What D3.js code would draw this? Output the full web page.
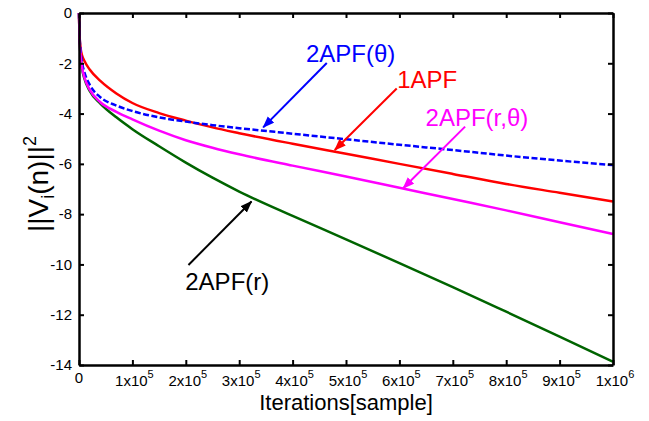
<!DOCTYPE html>
<html>
<head>
<meta charset="utf-8">
<script src="https://cdn.jsdelivr.net/npm/d3@7/dist/d3.min.js"></script>
<style>
body{margin:0;background:#fff;}
text{font-family:Arial,"Liberation Sans",sans-serif;}
</style>
</head>
<body>
<svg class="chart"></svg>
<script>
var W = 649, H = 421;
var plotL = 79, plotR = 613, plotT = 13, plotB = 365;

var iterations = [0,1e3,3e3,6e3,1e4,2e4,4e4,7e4,1e5,1.5e5,2e5,2.5e5,3e5,4e5,5e5,6e5,7e5,8e5,9e5,1e6];
// ||Vi(n)||^2 for each algorithm
var apf1      = [0,-0.9,-1.4,-1.7,-1.9,-2.25,-2.7,-3.2,-3.58,-3.98,-4.28,-4.55,-4.78,-5.2,-5.6,-6.0,-6.4,-6.8,-7.15,-7.5];
var apf2Theta = [0,-0.8,-1.5,-2.0,-2.35,-2.85,-3.35,-3.68,-3.9,-4.15,-4.32,-4.46,-4.58,-4.8,-5.02,-5.24,-5.45,-5.67,-5.87,-6.05];
var apf2RTheta= [0,-1.0,-1.7,-2.2,-2.55,-3.05,-3.55,-3.93,-4.23,-4.68,-5.06,-5.36,-5.62,-6.07,-6.5,-6.95,-7.4,-7.85,-8.32,-8.79];
var apf2R     = [0,-1.0,-1.7,-2.25,-2.6,-3.1,-3.6,-4.15,-4.62,-5.3,-5.95,-6.55,-7.1,-8.07,-9.0,-9.95,-10.9,-11.88,-12.87,-13.87];

var xTicks = [0,1e5,2e5,3e5,4e5,5e5,6e5,7e5,8e5,9e5,1e6];
var xTickBase = ["0","1x10","2x10","3x10","4x10","5x10","6x10","7x10","8x10","9x10","1x10"];
var xTickExp  = ["","5","5","5","5","5","5","5","5","5","6"];
var yTicks = [0,-2,-4,-6,-8,-10,-12,-14];

var x = d3.scaleLinear().domain([0,1e6]).range([plotL,plotR]);
var y = d3.scaleLinear().domain([-14,0]).range([plotB,plotT]);

var svg = d3.select(".chart").attr("width",W).attr("height",H);
svg.append("rect").attr("width","100%").attr("height","100%").attr("fill","#fff");

// arrow heads
var defs = svg.append("defs");
["#0000ff","#ff0000","#ff00ff","#000000"].forEach(function(c,i){
  defs.append("marker")
    .attr("id","head"+i)
    .attr("markerUnits","userSpaceOnUse")
    .attr("markerWidth",12).attr("markerHeight",10)
    .attr("refX",11).attr("refY",4.5)
    .attr("orient","auto")
    .append("path").attr("d","M0,0 L12,4.5 L0,9 z").attr("fill",c);
});

// curves
var series = [
  {v:apf2R, color:"#006400", dash:null},
  {v:apf1, color:"#ff0000", dash:null},
  {v:apf2Theta, color:"#0000ff", dash:"6,2.5"},
  {v:apf2RTheta, color:"#ff00ff", dash:null}
];
var line = d3.line()
  .x(function(d){return x(d[0]);})
  .y(function(d){return y(d[1]);})
  .curve(d3.curveMonotoneX);

series.forEach(function(s){
  svg.append("path")
    .datum(iterations.map(function(t,i){return [t,s.v[i]];}))
    .attr("d",line)
    .attr("fill","none")
    .attr("stroke",s.color)
    .attr("stroke-width",2.5)
    .attr("stroke-dasharray",s.dash);
});

// axes (ticks pointing inward on all four sides)
var gb = svg.append("g").attr("transform","translate(0,"+plotB+")")
  .call(d3.axisBottom(x).tickValues(xTicks).tickSize(-5).tickSizeOuter(0).tickFormat(""));
var gt = svg.append("g").attr("transform","translate(0,"+plotT+")")
  .call(d3.axisTop(x).tickValues(xTicks).tickSize(-5).tickSizeOuter(0).tickFormat(""));
var gl = svg.append("g").attr("transform","translate("+plotL+",0)")
  .call(d3.axisLeft(y).tickValues(yTicks).tickSize(-5).tickSizeOuter(0).tickPadding(7)
    .tickFormat(function(d){return String(d);}));
var gr = svg.append("g").attr("transform","translate("+plotR+",0)")
  .call(d3.axisRight(y).tickValues(yTicks).tickSize(-5).tickSizeOuter(0).tickFormat(""));
[gb,gt,gl,gr].forEach(function(g){
  g.select(".domain").attr("stroke","#000").attr("stroke-width",2.5);
  g.selectAll(".tick line").attr("stroke","#000").attr("stroke-width",2);
});
gl.selectAll(".tick text").attr("font-size",15).attr("fill","#000")
  .attr("font-family","Arial,'Liberation Sans',sans-serif");

// x tick labels with exponent
var xl = svg.selectAll(".xlab").data(xTicks).enter().append("text")
  .attr("class","xlab")
  .attr("x",function(d,i){return x(d)+(i==0?0:2);})
  .attr("y",function(d,i){return i==0?383:386;})
  .attr("text-anchor","middle")
  .attr("font-size",15);
xl.append("tspan").text(function(d,i){return xTickBase[i];});
xl.append("tspan").attr("dy",-8).attr("font-size",11).text(function(d,i){return xTickExp[i];});

// axis titles
svg.append("text")
  .attr("x",(plotL+plotR)/2).attr("y",410)
  .attr("text-anchor","middle").attr("font-size",22)
  .text("Iterations[sample]");

var yt = svg.append("text")
  .attr("transform","translate(48,184) rotate(-90)")
  .attr("text-anchor","middle").attr("font-size",28);
yt.append("tspan").text("||V");
yt.append("tspan").attr("font-size",18).attr("dy",6).text("i");
yt.append("tspan").attr("dy",-6).text("(n)||");
yt.append("tspan").attr("font-size",18).attr("dy",-12).text("2");

// annotations, in data units
var notes = [
  {text:"2APF(\u03b8)", color:"#0000ff", head:0, tx:4.25e5, ty:-1.95, x1:4.64e5, y1:-1.99, x2:3.45e5, y2:-4.55},
  {text:"1APF", color:"#ff0000", head:1, tx:5.96e5, ty:-2.98, x1:5.95e5, y1:-3.0, x2:4.79e5, y2:-5.45},
  {text:"2APF(r,\u03b8)", color:"#ff00ff", head:2, tx:6.49e5, ty:-4.5, x1:7.23e5, y1:-4.52, x2:6.07e5, y2:-6.97},
  {text:"2APF(r)", color:"#000000", head:3, tx:1.99e5, ty:-11.02, x1:2.05e5, y1:-10.02, x2:3.23e5, y2:-7.5}
];
notes.forEach(function(n){
  svg.append("line")
    .attr("x1",x(n.x1)).attr("y1",y(n.y1))
    .attr("x2",x(n.x2)).attr("y2",y(n.y2))
    .attr("stroke",n.color).attr("stroke-width",2)
    .attr("marker-end","url(#head"+n.head+")");
  svg.append("text")
    .attr("x",x(n.tx)).attr("y",y(n.ty))
    .attr("fill",n.color).attr("font-size",24)
    .text(n.text);
});
</script>
</body>
</html>
